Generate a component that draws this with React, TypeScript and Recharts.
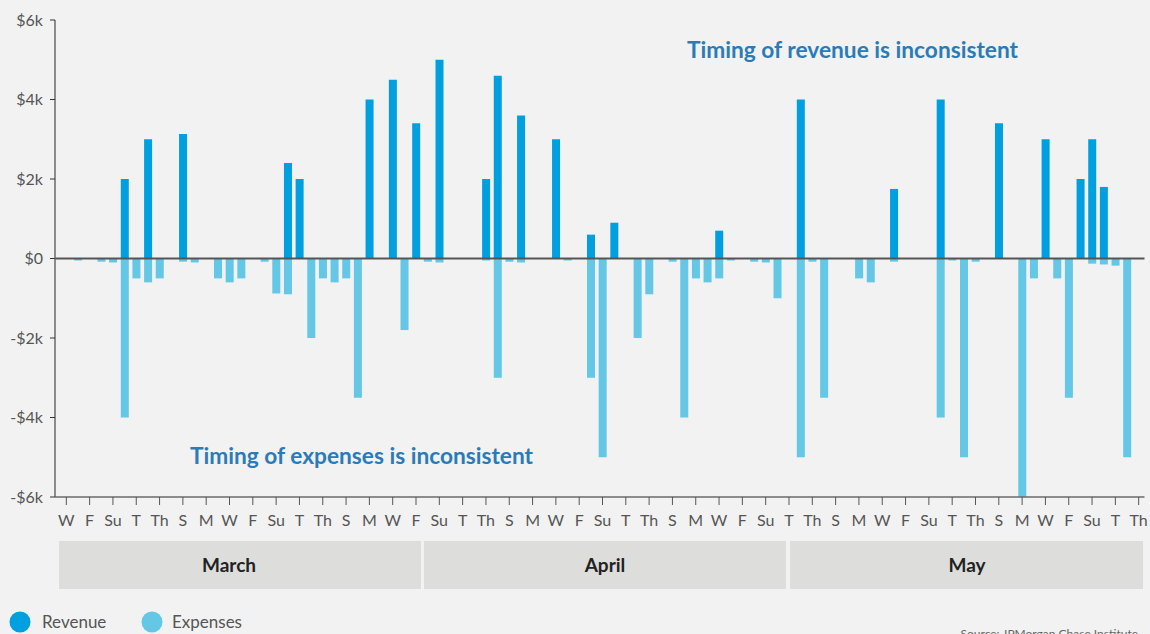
import React from 'react';
import { BarChart, Bar, XAxis, YAxis, ReferenceLine } from 'recharts';

// One category per day, 1 March (Wednesday) through 1 June (Thursday)
const dayLabels = [
  'W', 'Th', 'F', 'S', 'Su', 'M', 'T',
  'W', 'Th', 'F', 'S', 'Su', 'M', 'T',
  'W', 'Th', 'F', 'S', 'Su', 'M', 'T',
  'W', 'Th', 'F', 'S', 'Su', 'M', 'T',
  'W', 'Th', 'F', 'S', 'Su', 'M', 'T',
  'W', 'Th', 'F', 'S', 'Su', 'M', 'T',
  'W', 'Th', 'F', 'S', 'Su', 'M', 'T',
  'W', 'Th', 'F', 'S', 'Su', 'M', 'T',
  'W', 'Th', 'F', 'S', 'Su', 'M', 'T',
  'W', 'Th', 'F', 'S', 'Su', 'M', 'T',
  'W', 'Th', 'F', 'S', 'Su', 'M', 'T',
  'W', 'Th', 'F', 'S', 'Su', 'M', 'T',
  'W', 'Th', 'F', 'S', 'Su', 'M', 'T',
  'W', 'Th',
];

// Daily revenue, $ thousands
const revenue = [
  0, 0, 0, 0, 0, 2.0, 0,
  3.0, 0, 0, 3.13, 0, 0, 0,
  0, 0, 0, 0, 0, 2.4, 2.0,
  0, 0, 0, 0, 0, 4.0, 0,
  4.5, 0, 3.4, 0, 5.0, 0, 0,
  0, 2.0, 4.6, 0, 3.6, 0, 0,
  3.0, 0, 0, 0.6, 0, 0.9, 0,
  0, 0, 0, 0, 0, 0, 0,
  0.7, 0, 0, 0, 0, 0, 0,
  4.0, 0, 0, 0, 0, 0, 0,
  0, 1.75, 0, 0, 0, 4.0, 0,
  0, 0, 0, 3.4, 0, 0, 0,
  3.0, 0, 0, 2.0, 3.0, 1.8, 0,
  0, 0,
];

// Daily expenses, $ thousands
const expenses = [
  0, -0.05, 0, -0.08, -0.1, -4.0, -0.5,
  -0.6, -0.5, 0, -0.08, -0.1, 0, -0.5,
  -0.6, -0.5, 0, -0.08, -0.88, -0.9, 0,
  -2.0, -0.5, -0.6, -0.5, -3.5, 0, 0,
  0, -1.8, 0, -0.08, -0.1, 0, 0,
  0, -0.05, -3.0, -0.08, -0.1, 0, 0,
  0, -0.05, 0, -3.0, -5.0, 0, 0,
  -2.0, -0.9, 0, -0.08, -4.0, -0.5, -0.6,
  -0.5, -0.05, 0, -0.08, -0.1, -1.0, 0,
  -5.0, -0.08, -3.5, 0, 0, -0.5, -0.6,
  0, -0.08, 0, 0, 0, -4.0, -0.05,
  -5.0, -0.08, 0, 0, 0, -6.0, -0.5,
  0, -0.5, -3.5, 0, -0.13, -0.15, -0.18,
  -5.0, 0,
];

const yTicks = [-6, -4, -2, 0, 2, 4, 6];
const months = ['March', 'April', 'May'];
const seriesNames = ['Revenue', 'Expenses'];
const annotations = ['Timing of revenue is inconsistent', 'Timing of expenses is inconsistent'];
const sourceText = 'Source: JPMorgan Chase Institute';

const REV_COLOR = '#009fdf';
const EXP_COLOR = '#63c7e5';
const FONT = 'Lato, "Open Sans", sans-serif';

const data = dayLabels.map((d, i) => ({
  idx: i,
  day: d,
  revenue: revenue[i],
  expenses: expenses[i],
}));

const fmtY = (v: number) => (v === 0 ? '$0' : v < 0 ? `-$${-v}k` : `$${v}k`);

export default function App() {
  return (
    <div
      style={{
        position: 'absolute',
        left: 0,
        top: 0,
        width: 1150,
        height: 634,
        background: '#f2f2f2',
        overflow: 'hidden',
        fontFamily: FONT,
      }}
    >
      <BarChart
        width={1150}
        height={540}
        data={data}
        stackOffset="sign"
        barSize={8}
        margin={{ top: 20, right: 5.5, left: 0, bottom: 0 }}
      >
        <XAxis
          dataKey="idx"
          type="category"
          interval={1}
          tickFormatter={(i: number) => dayLabels[i]}
          padding={{ left: 5.5, right: 0 }}
          height={43}
          tickSize={8}
          tickMargin={10}
          axisLine={{ stroke: '#6a6a6a', strokeWidth: 1.5 }}
          tickLine={{ stroke: '#555', strokeWidth: 1 }}
          tick={{ fontFamily: FONT, fontSize: 16, fill: '#555' }}
        />
        <YAxis
          width={55}
          domain={[-6, 6]}
          ticks={yTicks}
          tickFormatter={fmtY}
          interval={0}
          tickSize={5}
          tickMargin={7}
          axisLine={{ stroke: '#6a6a6a', strokeWidth: 1.5 }}
          tickLine={{ stroke: '#333', strokeWidth: 1 }}
          tick={{ fontFamily: FONT, fontSize: 16, fill: '#555' }}
        />
        <Bar dataKey="revenue" stackId="a" fill={REV_COLOR} isAnimationActive={false} />
        <Bar dataKey="expenses" stackId="a" fill={EXP_COLOR} isAnimationActive={false} />
        <ReferenceLine y={0} stroke="#555" strokeWidth={2} />
      </BarChart>

      <svg
        width={1150}
        height={634}
        style={{ position: 'absolute', left: 0, top: 0, pointerEvents: 'none' }}
      >
        <text
          x={687}
          y={58}
          fontFamily={FONT}
          fontWeight={700}
          fontSize={23}
          fill="#2b7bb9"
          textLength={331}
          lengthAdjust="spacingAndGlyphs"
        >
          {annotations[0]}
        </text>
        <text
          x={190}
          y={464}
          fontFamily={FONT}
          fontWeight={700}
          fontSize={23}
          fill="#2b7bb9"
          textLength={343}
          lengthAdjust="spacingAndGlyphs"
        >
          {annotations[1]}
        </text>

        {/* month bands */}
        <rect x={59} y={541} width={362} height={48} fill="#dddddb" />
        <rect x={424} y={541} width={362} height={48} fill="#dddddb" />
        <rect x={790} y={541} width={353} height={48} fill="#dddddb" />
        <text x={229} y={572} textAnchor="middle" fontFamily={FONT} fontWeight={700} fontSize={19} fill="#222">
          {months[0]}
        </text>
        <text x={605} y={572} textAnchor="middle" fontFamily={FONT} fontWeight={700} fontSize={19} fill="#222">
          {months[1]}
        </text>
        <text x={967} y={572} textAnchor="middle" fontFamily={FONT} fontWeight={700} fontSize={19} fill="#222">
          {months[2]}
        </text>

        {/* legend */}
        <circle cx={20} cy={622} r={10.5} fill={REV_COLOR} />
        <text x={42} y={628} fontFamily={FONT} fontSize={17} fill="#555">
          {seriesNames[0]}
        </text>
        <circle cx={152} cy={622} r={10.5} fill={EXP_COLOR} />
        <text x={172} y={628} fontFamily={FONT} fontSize={17} fill="#555">
          {seriesNames[1]}
        </text>

        <text x={1138} y={638} textAnchor="end" fontFamily={FONT} fontSize={12} fill="#666">
          {sourceText}
        </text>
      </svg>
    </div>
  );
}
